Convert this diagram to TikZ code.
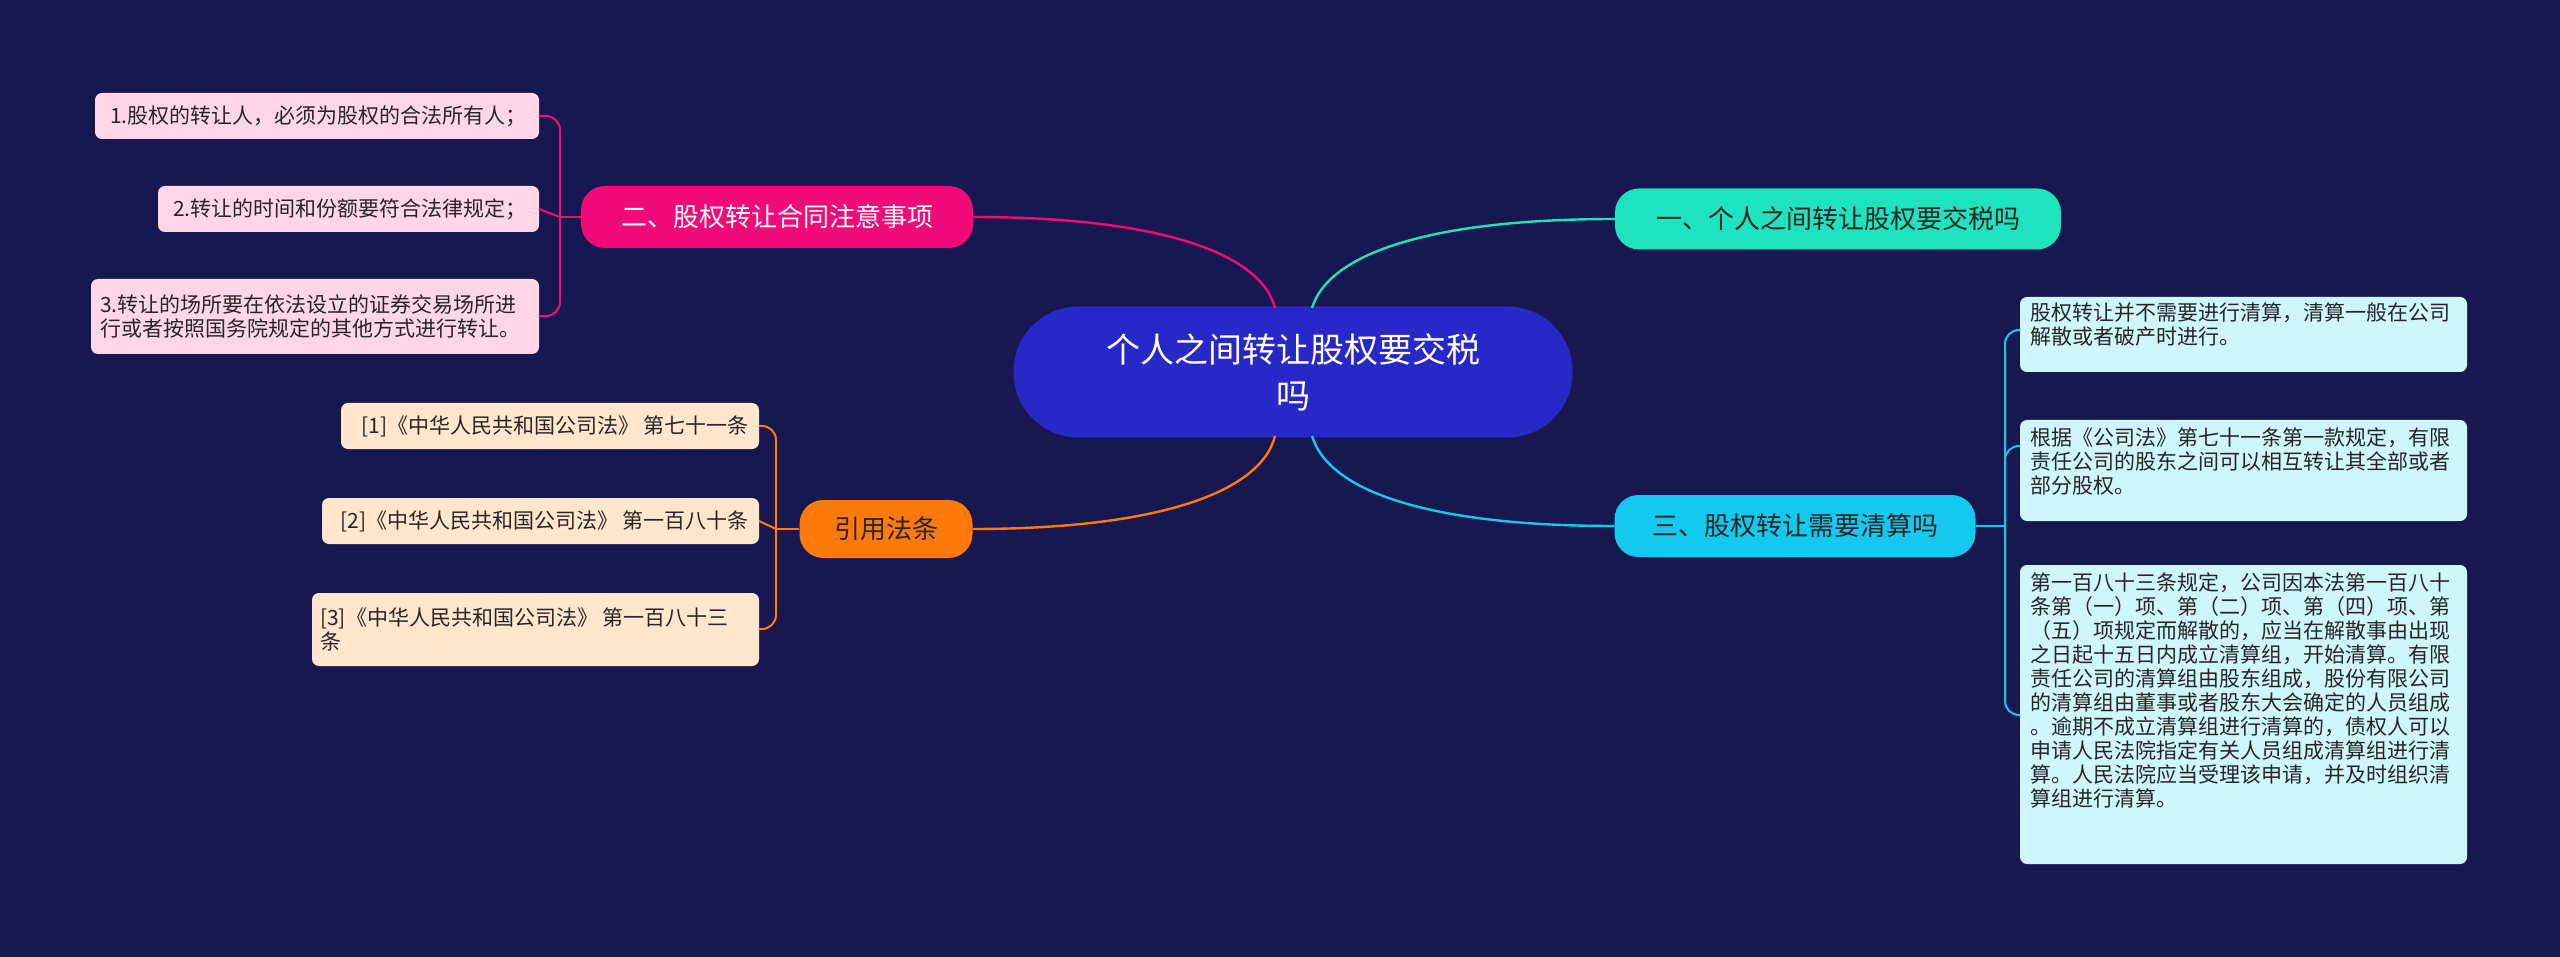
\documentclass[tikz,border=0pt]{standalone}
\usepackage{fontspec}
\setmainfont{Noto Sans CJK SC}
\XeTeXlinebreaklocale "zh"
\XeTeXlinebreakskip=0pt plus 1pt
\begin{document}
\begin{tikzpicture}[x=1pt,y=-1pt,
  leaf/.style={rounded corners=7, inner sep=0pt, anchor=north west, font=\fontsize{21}{24}\selectfont, text=black!85, align=left},
  br/.style={rounded corners=24, inner sep=0pt, font=\fontsize{26}{30}\selectfont},
  con/.style={line width=2.4pt}]
\definecolor{bg}{HTML}{181850}
\definecolor{cen}{HTML}{2828C8}
\definecolor{mag}{HTML}{F00A7A}
\definecolor{teal}{HTML}{1EE3BE}
\definecolor{cyn}{HTML}{14C8EE}
\definecolor{org}{HTML}{FF7A0A}
\definecolor{pk}{HTML}{FFD6E8}
\definecolor{lc}{HTML}{CFF6FD}
\definecolor{pe}{HTML}{FFE6CC}
\fill[bg] (0,0) rectangle (2560,957);
\useasboundingbox (0,0) rectangle (2560,957);
% center
\node[fill=cen, rounded corners=65, minimum width=559, minimum height=131, inner sep=0pt, text=white, align=center, font=\fontsize{34}{46}\selectfont] (c) at (1293,372) {个人之间转让股权要交税\\吗};
% branches
\node[br, fill=teal, minimum width=446, minimum height=61, text=black!85] (b1) at (1838,219) {一、个人之间转让股权要交税吗};
\node[br, fill=cyn, minimum width=361, minimum height=62, text=black!85] (b3) at (1795,526) {三、股权转让需要清算吗};
\node[br, fill=mag, minimum width=392, minimum height=62, text=white] (b2) at (777,217) {二、股权转让合同注意事项};
\node[br, fill=org, minimum width=173, minimum height=58, text=black!85] (b4) at (886,529) {引用法条};
% center connectors
\draw[con, mag] (b2.east) .. controls (1150,217) and (1260,250) .. (1275,308);
\draw[con, teal] (b1.west) .. controls (1440,219) and (1330,250) .. (1312,308);
\draw[con, cyn] (b3.west) .. controls (1440,526) and (1330,495) .. (1312,436);
\draw[con, org] (b4.east) .. controls (1150,529) and (1260,495) .. (1275,436);
% left leaves (magenta)
\fill[pk, rounded corners=7] (95,93) rectangle (539,139);
\node[leaf, anchor=east] (l1) at (539,116) {\hspace{12pt}1.股权的转让人，必须为股权的合法所有人；\hspace{12pt}};
\fill[pk, rounded corners=7] (158,186) rectangle (539,232);
\node[leaf, anchor=east] (l2) at (539,209) {\hspace{12pt}2.转让的时间和份额要符合法律规定；\hspace{12pt}};
\fill[pk, rounded corners=7] (91,279) rectangle (539,354);
\node[leaf, anchor=west] (l3t) at (100,316) {3.转让的场所要在依法设立的证券交易场所进\\行或者按照国务院规定的其他方式进行转让。};
\coordinate (l3) at (539,316);
\coordinate (f2) at (560,217);
\draw[con, mag, line width=2pt] (b2.west) -- (f2);
\draw[con, mag, line width=2pt, rounded corners=14] (f2) |- (l1.east);
\draw[con, mag, line width=2pt] (f2) -- (l2.east);
\draw[con, mag, line width=2pt, rounded corners=14] (f2) |- (l3);
% orange leaves
\fill[pe, rounded corners=7] (341,403) rectangle (759,449);
\node[leaf, anchor=east] (o1) at (759,426) {[1]《中华人民共和国公司法》 第七十一条\hspace{10pt}};
\fill[pe, rounded corners=7] (322,498) rectangle (759,544);
\node[leaf, anchor=east] (o2) at (759,521) {[2]《中华人民共和国公司法》 第一百八十条\hspace{10pt}};
\fill[pe, rounded corners=7] (312,593) rectangle (759,666);
\node[leaf, anchor=west] (o3t) at (320,629) {[3]《中华人民共和国公司法》 第一百八十三\\条};
\coordinate (o3) at (759,629);
\coordinate (f4) at (776,529);
\draw[con, org, line width=2pt] (b4.west) -- (f4);
\draw[con, org, line width=2pt, rounded corners=14] (f4) |- (o1.east);
\draw[con, org, line width=2pt] (f4) -- (o2.east);
\draw[con, org, line width=2pt, rounded corners=14] (f4) |- (o3);
% right leaves
\fill[lc, rounded corners=7] (2020,297) rectangle (2467,372);
\node[leaf] (r1t) at (2030,303) {股权转让并不需要进行清算，清算一般在公司\\解散或者破产时进行。};
\coordinate (r1) at (2020,330);
\fill[lc, rounded corners=7] (2020,420) rectangle (2467,521);
\node[leaf] (r2t) at (2030,428) {根据《公司法》第七十一条第一款规定，有限\\责任公司的股东之间可以相互转让其全部或者\\部分股权。};
\coordinate (r2) at (2020,446);
\fill[lc, rounded corners=7] (2020,565) rectangle (2467,864);
\node[leaf] (r3t) at (2030,573) {第一百八十三条规定，公司因本法第一百八十\\条第（一）项、第（二）项、第（四）项、第\\（五）项规定而解散的，应当在解散事由出现\\之日起十五日内成立清算组，开始清算。有限\\责任公司的清算组由股东组成，股份有限公司\\的清算组由董事或者股东大会确定的人员组成\\。逾期不成立清算组进行清算的，债权人可以\\申请人民法院指定有关人员组成清算组进行清\\算。人民法院应当受理该申请，并及时组织清\\算组进行清算。};
\coordinate (r3) at (2020,715);
\coordinate (f3) at (2005,526);
\draw[con, cyn, line width=2pt] (b3.east) -- (f3);
\draw[con, cyn, line width=2pt, rounded corners=14] (f3) |- (r1);
\draw[con, cyn, line width=2pt, rounded corners=14] (f3) |- (r2);
\draw[con, cyn, line width=2pt, rounded corners=14] (f3) |- (r3);
\end{tikzpicture}
\end{document}
